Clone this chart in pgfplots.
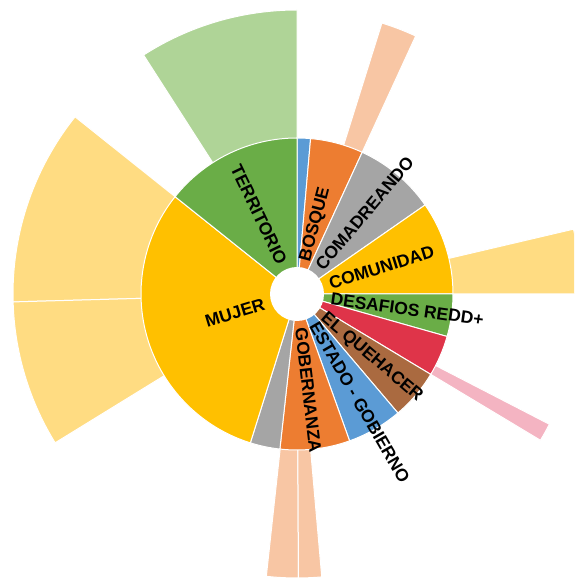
\documentclass[border=0pt]{standalone}
\usepackage{fontspec}
\setmainfont{Liberation Sans}
\usepackage{pgfplots}
\pgfplotsset{compat=1.18}
\definecolor{cBlue}{HTML}{5B9BD5}
\definecolor{cOrange}{HTML}{ED7D31}
\definecolor{cGray}{HTML}{A5A5A5}
\definecolor{cGold}{HTML}{FFC000}
\definecolor{cGreen}{HTML}{6AAD47}
\definecolor{cRed}{HTML}{DF3449}
\definecolor{cBrown}{HTML}{AA6A40}
\definecolor{lGreen}{HTML}{AFD497}
\definecolor{lOrange}{HTML}{F8C6A4}
\definecolor{lGold}{HTML}{FFDC82}
\definecolor{lPink}{HTML}{F4B4C2}
% sector: colour, start angle, end angle, radius (pt = data units)
\newcommand{\sector}[4]{\addplot[fill=#1, draw=white, line width=1pt] coordinates {(297,284)} -- ++(#2:#4pt) arc[start angle=#2, end angle=#3, radius=#4pt] -- cycle;}
\newcommand{\rlab}[2]{\path (axis cs:297,284) ++(#1:34pt) node[rotate=#1, anchor=west, inner sep=0pt, font=\fontsize{17.5}{17.5}\selectfont\bfseries] {#2};}
\newcommand{\llab}[3]{\path (axis cs:297,284) ++(#1:34pt) node[rotate=#2, anchor=east, inner sep=0pt, font=\fontsize{17.5}{17.5}\selectfont\bfseries] {#3};}
\begin{document}
\begin{tikzpicture}
\begin{axis}[x=1pt, y=1pt, xmin=0, xmax=574, ymin=0, ymax=578, hide axis, clip=true]
% outer ring
\sector{lGreen}{90}{122.7}{284}
\sector{lOrange}{65.3}{72.6}{284}
\sector{lGold}{0}{13.2}{284}
\sector{lPink}{-31}{-27.3}{284}
\sector{lOrange}{-96.2}{-89.7}{284}
\sector{lOrange}{-89.7}{-85}{284}
\sector{lGold}{141.4}{181.6}{284}
\sector{lGold}{181.6}{211.6}{284}
% inner ring
\sector{cBlue}{85}{90}{156}
\sector{cOrange}{65.3}{85}{156}
\sector{cGray}{34.8}{65.3}{156}
\sector{cGold}{0}{34.8}{156}
\sector{cGreen}{-15.8}{0}{156}
\sector{cRed}{-31}{-15.8}{156}
\sector{cBrown}{-49.7}{-31}{156}
\sector{cBlue}{-70.3}{-49.7}{156}
\sector{cOrange}{-96.3}{-70.3}{156}
\sector{cGray}{-107.4}{-96.3}{156}
\sector{cGold}{141.4}{252.6}{156}
\sector{cGreen}{90}{141.4}{156}
% hole
\addplot[fill=white, draw=none] coordinates {(297,284)} circle[radius=27pt];
% labels
\rlab{75.2}{BOSQUE}
\rlab{50}{COMADREANDO}
\rlab{17.4}{COMUNIDAD}
\rlab{-7.9}{DESAFIOS REDD+}
\rlab{-40.4}{EL QUEHACER}
\rlab{-60}{ESTADO - GOBIERNO}
\rlab{-83.3}{GOBERNANZA}
\llab{115.7}{-64.3}{TERRITORIO}
\llab{197}{17}{MUJER}
\end{axis}
\pgfresetboundingbox
\path[use as bounding box] (current axis.south west) rectangle (current axis.north east);
\end{tikzpicture}
\end{document}
